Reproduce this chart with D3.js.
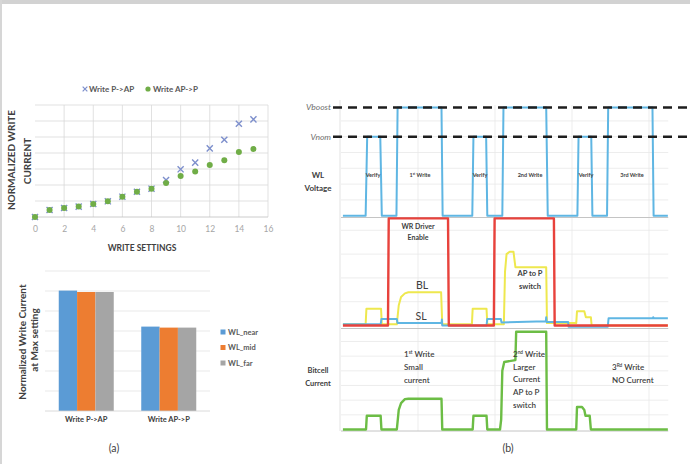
<!DOCTYPE html>
<html><head><meta charset="utf-8">
<script src="https://cdn.jsdelivr.net/npm/d3@7"></script>
<style>
html,body{margin:0;padding:0;background:#fff;}
svg{display:block;font-family:Lato,"Open Sans",sans-serif;}
</style></head><body>
<svg id="fig" width="690" height="464"></svg>
<script>
// ---------- (a) top: normalized write current vs. write setting ----------
const writeSettings = [0,1,2,3,4,5,6,7,8,9,10,11,12,13,14,15];
const writePtoAP   = [0,0.44,0.56,0.65,0.81,0.98,1.27,1.58,1.77,2.31,2.98,3.40,4.29,4.83,5.83,6.10];
const writeAPtoP   = [0,0.44,0.56,0.65,0.81,0.98,1.27,1.58,1.77,2.13,2.56,2.85,3.25,3.54,4.06,4.25];
const settingTicks = [0,2,4,6,8,10,12,14,16];

// ---------- (a) bottom: current at max setting per word-line position ----------
const transitions = ["Write P->AP","Write AP->P"];
const wlSeries    = ["WL_near","WL_mid","WL_far"];
const wlNear = [6.02,4.22];
const wlMid  = [5.95,4.17];
const wlFar  = [5.95,4.17];

// ---------- (b) waveforms: [time, level] ----------
const wlVoltage = [[0.5,0],[6.4,0],[6.8,1],[10.2,1],[10.6,0],
  [14.4,0],[14.7,1.37],[26.1,1.37],[26.4,0],
  [34.1,0],[34.4,1],[37.7,1],[38.0,0],
  [41.9,0],[42.2,1.37],[53.3,1.37],[53.7,0],
  [61.4,0],[61.7,1],[65.0,1],[65.3,0],
  [69.1,0],[69.4,1.37],[80.9,1.37],[81.2,0],[84.9,0]];
const vNom = 1, vBoost = 1.37;
const wrEnable = [[0.5,0],[12.2,0],[12.4,0.9],[27.8,0.9],[28.0,0],
  [39.7,0],[39.9,0.9],[55.3,0.9],[55.5,0],[84.9,0]];
const blVoltage = [[0.5,0.01],[6.4,0.01],[6.6,0.14],[10.4,0.14],[10.6,0.01],
  [14.5,0.01],[15.0,0.17],[15.6,0.24],[16.6,0.27],[17.5,0.28],[26.0,0.28],[26.3,0.01],
  [34.0,0.01],[34.2,0.14],[37.8,0.14],[38.0,0.01],
  [42.3,0.01],[42.6,0.45],[43.0,0.6],[43.8,0.62],[44.8,0.62],[45.3,0.49],[53.3,0.49],[53.5,0.02],
  [61.1,0.02],[61.3,0.12],[63.2,0.12],[63.6,0.07],[64.9,0.07],[65.1,0.0],[84.9,0.0]];
const slVoltage = [[0.5,0.01],[10.3,0.01],[10.5,0.055],[14.5,0.055],[14.7,0.02],[26.1,0.02],
  [26.2,0.05],[26.3,0.0],[37.8,0.0],[38.0,0.055],[41.5,0.055],[41.7,0.025],[53.2,0.035],
  [53.3,0.07],[53.4,0.03],[59.0,0.03],[59.1,-0.01],[69.3,-0.01],[69.5,0.06],[81.0,0.06],
  [81.1,0.07],[81.3,0.06],[84.9,0.06]];
const bitcellCurrent = [[0.5,0],[6.5,0],[6.7,0.14],[10.3,0.14],[10.5,0],
  [14.5,0],[15.0,0.2],[15.6,0.27],[16.6,0.31],[17.5,0.315],[26.1,0.315],[26.3,0],
  [34.2,0],[34.4,0.14],[37.8,0.14],[38.0,0],
  [41.3,0],[41.6,0.1],[41.9,0.6],[42.4,0.69],[45.3,0.71],[45.5,1.0],[53.3,1.0],[53.5,0],
  [61.1,0],[61.3,0.23],[62.6,0.23],[63.2,0.2],[63.5,0.14],[64.6,0.14],[64.9,0],[84.9,0]];

const GRID = "#d9d9d9", TXT = "#404040", TICK = "#a6a6a6";
const svg = d3.select("#fig");
svg.append("rect").attr("width",690).attr("height",464).attr("fill","#fff");
svg.append("rect").attr("width",690).attr("height",4).attr("fill","#d2d2d2");
svg.append("rect").attr("width",2).attr("height",464).attr("fill","#d6d6d6");

// ===== scatter =====
const sx = d3.scaleLinear().domain([0,16]).range([35,268]);
const sy = d3.scaleLinear().domain([0,7]).range([217,105]);
const gs = svg.append("g");
gs.append("g").selectAll("line").data(d3.range(1,8)).join("line")
  .attr("x1",sx(0)).attr("x2",sx(16)).attr("y1",d=>sy(d)).attr("y2",d=>sy(d))
  .attr("stroke",GRID).attr("stroke-width",0.8);
gs.append("g").selectAll("line").data(settingTicks.slice(1)).join("line")
  .attr("x1",d=>sx(d)).attr("x2",d=>sx(d)).attr("y1",sy(0)).attr("y2",sy(7))
  .attr("stroke",GRID).attr("stroke-width",0.8);
gs.append("line").attr("x1",sx(0)).attr("x2",sx(16)).attr("y1",sy(0)).attr("y2",sy(0))
  .attr("stroke","#bfbfbf").attr("stroke-width",0.8);
const sax = gs.append("g").attr("transform",`translate(0,${sy(0)})`)
  .call(d3.axisBottom(sx).tickValues(settingTicks).tickSize(0).tickPadding(9));
sax.select(".domain").remove();
sax.selectAll("text").attr("fill",TICK).style("font-size","8.5px").style("font-family","Lato,sans-serif");
gs.append("g").selectAll("path").data(writeSettings).join("path")
  .attr("transform",(d,i)=>`translate(${sx(d)},${sy(writePtoAP[i])})`)
  .attr("d",d3.symbol(d3.symbolX,26)).attr("fill","none").attr("stroke","#7d8fcc").attr("stroke-width",1.4);
gs.append("g").selectAll("circle").data(writeSettings).join("circle")
  .attr("cx",d=>sx(d)).attr("cy",(d,i)=>sy(writeAPtoP[i])).attr("r",3).attr("fill","#70ad47");
// legend
gs.append("path").attr("transform","translate(85,89)").attr("d",d3.symbol(d3.symbolX,16))
  .attr("fill","none").attr("stroke","#7d8fcc").attr("stroke-width",1.2);
gs.append("text").attr("x",89).attr("y",92).text("Write P->AP").attr("fill","#595959")
  .style("font-size","8px").style("font-weight",700);
gs.append("circle").attr("cx",148).attr("cy",89).attr("r",2.6).attr("fill","#70ad47");
gs.append("text").attr("x",153).attr("y",92).text("Write AP->P").attr("fill","#595959")
  .style("font-size","8px").style("font-weight",700);
gs.append("text").attr("x",142).attr("y",251).attr("text-anchor","middle").text("WRITE SETTINGS")
  .attr("fill",TXT).style("font-size","8.5px").style("font-weight",700);
gs.append("text").attr("transform","translate(15,160) rotate(-90)").attr("text-anchor","middle")
  .text("NORMALIZED WRITE").attr("fill",TXT).style("font-size","10px").style("font-weight",700);
gs.append("text").attr("transform","translate(31,161) rotate(-90)").attr("text-anchor","middle")
  .text("CURRENT").attr("fill",TXT).style("font-size","10px").style("font-weight",700);

// ===== bars =====
const bx = d3.scaleBand().domain(transitions).range([45,210]).paddingInner(1/3).paddingOuter(1/6);
const bs = d3.scaleBand().domain(wlSeries).range([0,bx.bandwidth()]);
const by = d3.scaleLinear().domain([0,7]).range([411,271]);
const barColor = d3.scaleOrdinal().domain(wlSeries).range(["#5b9bd5","#ed7d31","#a5a5a5"]);
const barVals = {WL_near:wlNear, WL_mid:wlMid, WL_far:wlFar};
const gb = svg.append("g");
gb.append("g").selectAll("line").data(d3.range(1,8)).join("line")
  .attr("x1",45).attr("x2",210).attr("y1",d=>by(d)).attr("y2",d=>by(d))
  .attr("stroke","#e3e3e3").attr("stroke-width",0.8);
transitions.forEach((t,ti)=>{
  gb.append("g").selectAll("rect").data(wlSeries).join("rect")
    .attr("x",s=>bx(t)+bs(s)).attr("width",bs.bandwidth())
    .attr("y",s=>by(barVals[s][ti])).attr("height",s=>by(0)-by(barVals[s][ti]))
    .attr("fill",s=>barColor(s));
});
gb.append("line").attr("x1",45).attr("x2",210).attr("y1",by(0)).attr("y2",by(0))
  .attr("stroke","#d0d0d0").attr("stroke-width",0.8);
const bax = gb.append("g").attr("transform",`translate(0,${by(0)})`)
  .call(d3.axisBottom(bx).tickSize(0).tickPadding(6));
bax.select(".domain").remove();
bax.selectAll("text").attr("fill","#404040").style("font-size","7.5px").style("font-weight",700)
  .style("font-family","Lato,sans-serif");
const lg = gb.append("g").selectAll("g").data(wlSeries).join("g")
  .attr("transform",(d,i)=>`translate(223,${332+i*15.5})`);
lg.append("rect").attr("x",-2.5).attr("y",-2.5).attr("width",5).attr("height",5).attr("fill",d=>barColor(d));
lg.append("text").attr("x",5).attr("y",2.8).text(d=>d).attr("fill","#595959")
  .style("font-size","7.5px").style("font-weight",700);
gb.append("text").attr("transform","translate(26,342) rotate(-90)").attr("text-anchor","middle")
  .text("Normalized Write Current").attr("fill",TXT).style("font-size","10px").style("font-weight",700);
gb.append("text").attr("transform","translate(38,340) rotate(-90)").attr("text-anchor","middle")
  .text("at Max setting").attr("fill",TXT).style("font-size","10px").style("font-weight",700);
svg.append("text").attr("x",114).attr("y",452).attr("text-anchor","middle").text("(a)")
  .attr("fill",TXT).style("font-size","10.5px");

// ===== (b) timing waveforms =====
const tx = d3.scaleLinear().domain([0,85]).range([341,668.25]);
const yWL = d3.scaleLinear().domain([0,1.4]).range([215.7,105.1]);
const yMid = d3.scaleLinear().domain([0,1]).range([325.5,206.5]);
const yCell = d3.scaleLinear().domain([0,1]).range([429.5,331.7]);
const gw = svg.append("g");
const GR2 = "#e8e8e8";
const hGrid = (vals, sc) => gw.append("g").selectAll("line").data(vals).join("line")
  .attr("x1",tx(0)).attr("x2",tx(85)).attr("y1",d=>sc(d)).attr("y2",d=>sc(d))
  .attr("stroke",GR2).attr("stroke-width",0.8);
hGrid([0.2,0.4,0.6,0.8,1.0,1.2], yWL);
hGrid([0.2,0.4,0.6,0.8], yMid);
hGrid([0.15,0.3,0.45,0.6,0.75,0.9], yCell);
gw.append("g").selectAll("line").data([20,40,60,80]).join("line")
  .attr("x1",d=>tx(d)).attr("x2",d=>tx(d)).attr("y1",105).attr("y2",431)
  .attr("stroke",GR2).attr("stroke-width",0.8);
gw.append("line").attr("x1",340).attr("x2",340).attr("y1",100).attr("y2",431)
  .attr("stroke","#dcdcdc").attr("stroke-width",0.8);
[217.5,328.5,431].forEach(y=>gw.append("line").attr("x1",tx(0)).attr("x2",tx(85))
  .attr("y1",y).attr("y2",y).attr("stroke","#c4c4c4").attr("stroke-width",1));

const wave = (data, sc, color, w) => gw.append("path").datum(data)
  .attr("d",d3.line().x(d=>tx(d[0])).y(d=>sc(d[1])))
  .attr("fill","none").attr("stroke",color).attr("stroke-width",w).attr("stroke-linejoin","round");
wave(wlVoltage, yWL, "#5fb6e3", 2);
wave(blVoltage, yMid, "#eee84e", 2);
wave(slVoltage, yMid, "#5fb6e3", 2);
wave(wrEnable, yMid, "#e8423c", 2.4);
wave(bitcellCurrent, yCell, "#6cbd45", 2.4);

// Vnom / Vboost reference levels
[[vBoost,"Vboost"],[vNom,"Vnom"]].forEach(([v,lab])=>{
  gw.append("line").attr("x1",333).attr("x2",690).attr("y1",yWL(v)).attr("y2",yWL(v))
    .attr("stroke","#1e1e1e").attr("stroke-width",2.4).attr("stroke-dasharray","9,6");
  gw.append("text").attr("x",331).attr("y",yWL(v)+3).attr("text-anchor","end").text(lab)
    .attr("fill","#6e6e6e").style("font-size","8.5px").style("font-style","italic");
});

const lbl = (x,y,parts,size,weight,anchor) => {
  const t = gw.append("text").attr("x",x).attr("y",y).attr("text-anchor",anchor||"middle")
    .attr("fill",TXT).style("font-size",size+"px").style("font-weight",weight||400);
  parts.forEach(p=>{
    if (Array.isArray(p)) t.append("tspan").text(p[0]).attr("baseline-shift","super").style("font-size",(size*0.6)+"px");
    else t.append("tspan").text(p);
  });
};
lbl(318,178,["WL"],8,700); lbl(318,191,["Voltage"],8,700);
lbl(373,177,["Verify"],5.5,700); lbl(420,177,["1",["st"]," Write"],5.5,700);
lbl(480,177,["Verify"],5.5,700); lbl(530,177,["2nd Write"],5.5,700);
lbl(586,177,["Verify"],5.5,700); lbl(632,177,["3rd Write"],5.5,700);
lbl(418,229,["WR Driver"],7,700); lbl(418,240,["Enable"],7,700);
lbl(422,289,["BL"],10.5,400); lbl(421,320,["SL"],10.5,400);
lbl(530,276,["AP to P"],7.5,700); lbl(530,289,["switch"],7.5,700);
lbl(318,373,["Bitcell"],7.5,700); lbl(318,386,["Current"],7.5,700);
lbl(404,357,["1",["st"]," Write"],8,600,"start"); lbl(404,370,["Small"],8,600,"start");
lbl(404,383,["current"],8,600,"start");
lbl(513,357,["2",["nd"]," Write"],8,600,"start"); lbl(513,370,["Larger"],8,600,"start");
lbl(513,382,["Current"],8,600,"start"); lbl(513,395,["AP to P"],8,600,"start");
lbl(513,408,["switch"],8,600,"start");
lbl(612,370,["3",["Rd"]," Write"],8,600,"start"); lbl(612,383,["NO Current"],8,600,"start");
svg.append("text").attr("x",508).attr("y",452).attr("text-anchor","middle").text("(b)")
  .attr("fill",TXT).style("font-size","10.5px");
</script>
</body></html>
